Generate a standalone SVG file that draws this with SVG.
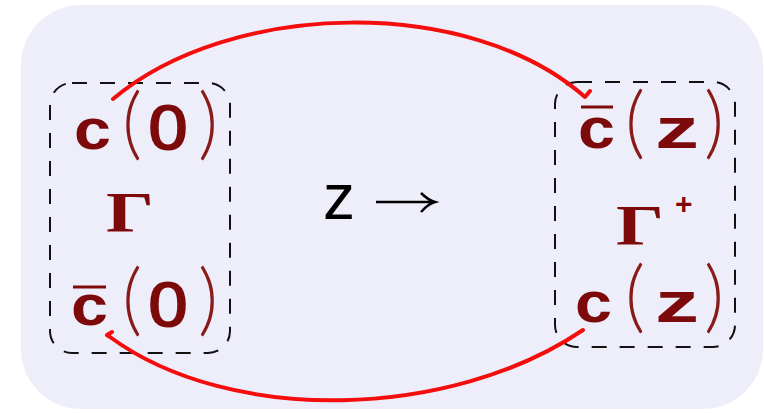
<svg xmlns="http://www.w3.org/2000/svg" width="764" height="413" viewBox="0 0 764 413">
<style>
.m{font-family:"Liberation Sans",Arial,sans-serif;font-weight:bold;fill:#7d0a0a}
.z{font-family:"Open Sans","Liberation Sans",sans-serif;font-weight:600;fill:#7d0a0a}
.p{font-family:"Lato","Liberation Serif",serif;font-weight:300;font-size:78px;fill:#8a1a1a}
.g{font-family:"Liberation Serif","Times New Roman",serif;font-weight:bold;font-size:56px;fill:#7d0a0a}
.box{fill:none;stroke:#111;stroke-width:2;stroke-dasharray:15 13}
.bar{stroke:#7d0a0a;stroke-width:3}
.red{fill:none;stroke:#f40d0d;stroke-width:4;stroke-linecap:round;stroke-linejoin:round}
</style>
<rect x="21" y="5" width="742" height="404" rx="60" fill="#eeeefa"/>
<g id="left">
<rect class="box" x="50" y="83" width="180" height="270" rx="22"/>
<text class="m" x="74" y="149" font-size="58" textLength="37" lengthAdjust="spacingAndGlyphs">c</text>
<text class="p" x="122" y="150">(</text>
<text class="z" x="147" y="150" font-size="64" textLength="42" lengthAdjust="spacingAndGlyphs">0</text>
<text class="p" x="198" y="150">)</text>
<text class="g" x="106" y="232" textLength="48" lengthAdjust="spacingAndGlyphs">Γ</text>
<line class="bar" x1="73" y1="287" x2="106" y2="287"/>
<text class="m" x="71" y="325" font-size="58" textLength="37" lengthAdjust="spacingAndGlyphs">c</text>
<text class="p" x="122" y="326">(</text>
<text class="z" x="147" y="327" font-size="64" textLength="42" lengthAdjust="spacingAndGlyphs">0</text>
<text class="p" x="198" y="326">)</text>
</g>
<g id="right">
<rect class="box" x="555" y="82" width="180" height="265" rx="22"/>
<line class="bar" x1="581" y1="107" x2="613" y2="107"/>
<text class="m" x="578" y="148" font-size="58" textLength="37" lengthAdjust="spacingAndGlyphs">c</text>
<text class="p" x="625" y="149">(</text>
<text class="m" x="655" y="148" font-size="58" textLength="44" lengthAdjust="spacingAndGlyphs">z</text>
<text class="p" x="704" y="149">)</text>
<text class="g" x="616" y="245" textLength="48" lengthAdjust="spacingAndGlyphs">Γ</text>
<text x="675" y="214" font-family="Liberation Sans,Arial,sans-serif" font-weight="bold" font-size="30" fill="#7d0a0a">+</text>
<text class="m" x="575" y="322" font-size="58" textLength="37" lengthAdjust="spacingAndGlyphs">c</text>
<text class="p" x="625" y="323">(</text>
<text class="m" x="655" y="322" font-size="58" textLength="44" lengthAdjust="spacingAndGlyphs">z</text>
<text class="p" x="704" y="323">)</text>
</g>
<g id="middle">
<text x="323" y="219" font-family="Liberation Sans,Arial,sans-serif" font-size="64" fill="#000">z</text>
<path d="M376,202 H433 M421,193 Q428,200 435,202 Q428,204 421,212" fill="none" stroke="#000" stroke-width="2.5"/>
</g>
<g id="connectors">
<path class="red" d="M113,99 C230,0 470,-5 585,97 L590,91"/>
<path class="red" d="M583,330 C450,420 230,425 110,337 L107,335 L112,332"/>
</g>
</svg>
